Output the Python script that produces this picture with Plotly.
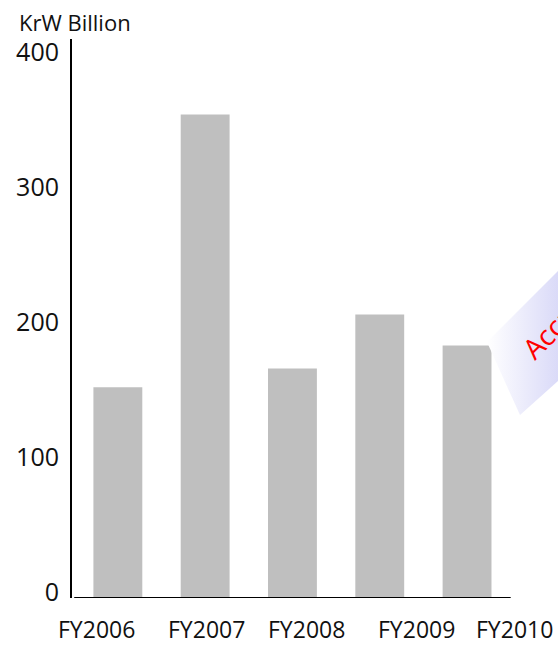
import plotly.graph_objects as go

# ---- data ----
categories = ["FY2006", "FY2007", "FY2008", "FY2009", "FY2010"]
values = [156, 358, 170, 210, 187]
y_ticks = [0, 100, 200, 300, 400]
y_tick_labels = ["0", "100", "200", "300", "400"]
unit_label = "KrW Billion"
callout_text = "Accumulated"

# decorative callout band (in pixel space of overlay axes)
band_x = [487, 558, 558, 520, 487]
band_y = [342, 271, 381, 415, 342]

# ---- layout helpers ----
W, H = 558, 645
ml, mr, mt, mb = 72, 0, 39, 47
step = 87.3                     # pixels per category
x0 = -0.5 - (74.2 - ml) / step  # left edge of plot area in category units
x1 = x0 + (W - ml - mr) / step
label_shift = [-21, 1.5, 14.5, 37, 47]
FONT = "Open Sans"
plot_w = W - ml - mr
plot_h = H - mt - mb

fig = go.Figure()

fig.add_trace(go.Bar(
    x=list(range(len(categories))), y=values,
    marker=dict(color="#bfbfbf", line=dict(width=0)),
    hoverinfo="skip", showlegend=False,
))

fig.add_trace(go.Scatter(
    x=band_x, y=band_y, xaxis="x2", yaxis="y2",
    mode="lines", line=dict(width=0), fill="toself",
    fillgradient=dict(type="horizontal",
                      colorscale=[[0, "#ffffff"], [1, "#dadaf8"]]),
    hoverinfo="skip", showlegend=False,
))

annotations = []
for i, (c, s) in enumerate(zip(categories, label_shift)):
    annotations.append(dict(
        text=c, x=i, xref="x", y=0, yref="paper",
        xanchor="center", yanchor="middle", xshift=s, yshift=-31,
        showarrow=False, font=dict(family=FONT, size=23, color="#111111"),
    ))
annotations.append(dict(
    text=unit_label, x=(17 - ml) / plot_w, xref="paper",
    y=(H - mb - 22) / plot_h, yref="paper",
    xanchor="left", yanchor="middle", showarrow=False,
    font=dict(family=FONT, size=22, color="#111111"),
))
annotations.append(dict(
    text=callout_text, x=511, xref="x2", y=369, yref="y2",
    xanchor="left", yanchor="bottom", textangle=-45, showarrow=False,
    font=dict(family=FONT, size=28, color="#ff0000"),
))

fig.update_layout(
    width=W, height=H,
    margin=dict(l=ml, r=mr, t=mt, b=mb),
    paper_bgcolor="white", plot_bgcolor="white",
    bargap=0.44,
    xaxis=dict(range=[x0, x1], showline=False, showgrid=False,
               zeroline=False, showticklabels=False, ticks="", fixedrange=True),
    yaxis=dict(range=[0, 414], showline=True, linecolor="black", linewidth=2,
               showgrid=False, zeroline=False, ticks="",
               tickvals=y_ticks, ticktext=y_tick_labels,
               tickfont=dict(family=FONT, size=25, color="#111111"),
               ticklabelstandoff=6, ticklabelshift=-6),
    xaxis2=dict(overlaying="x", range=[ml, W - mr], visible=False, fixedrange=True),
    yaxis2=dict(overlaying="y", range=[H - mb, mt], visible=False, fixedrange=True),
    shapes=[dict(type="line", xref="x", yref="y", x0=-0.5, x1=4.5, y0=0, y1=0,
                 line=dict(color="black", width=2))],
    annotations=annotations,
)

fig.write_html("out.html")
